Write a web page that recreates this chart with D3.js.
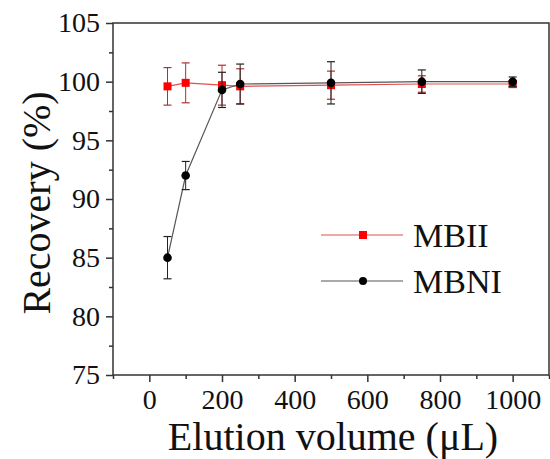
<!DOCTYPE html>
<html>
<head>
<meta charset="utf-8">
<script src="https://cdn.jsdelivr.net/npm/d3@7"></script>
<style>
  body { margin: 0; background: #fff; }
</style>
</head>
<body>
<div id="chart"></div>
<script>
// elution volumes (uL)
const volumes = [50, 100, 200, 250, 500, 750, 1000];
// recovery (%) and error
const mbiiRecovery = [99.6, 99.9, 99.7, 99.6, 99.7, 99.8, 99.8];
const mbiiError    = [1.6, 1.7, 1.7, 1.5, 1.2, 0.7, 0.3];
const mbniRecovery = [85.0, 92.0, 99.3, 99.8, 99.9, 100.0, 100.0];
const mbniError    = [1.8, 1.2, 1.5, 1.7, 1.8, 1.0, 0.4];

const xTicks = [0, 200, 400, 600, 800, 1000];
const yTicks = [75, 80, 85, 90, 95, 100, 105];

const seriesList = [
  { name: "MBII", values: mbiiRecovery, errors: mbiiError, color: "#ff0000", line: "#e05050", err: "#b03030", shape: "square" },
  { name: "MBNI", values: mbniRecovery, errors: mbniError, color: "#000000", line: "#555555", err: "#222222", shape: "circle" }
];

const fontName = "Times New Roman";

const layout = { top: 23, right: 1, bottom: 84, left: 113 },
      width = 550, height = 459,
      chartWidth = width - layout.left - layout.right,
      chartHeight = height - layout.top - layout.bottom;

const svg = d3.select("#chart").append("svg")
    .attr("width", width)
    .attr("height", height);

const g = svg.append("g").attr("transform", `translate(${layout.left},${layout.top})`);

const x = d3.scaleLinear().domain([-100, 1100]).range([0, chartWidth]);
const y = d3.scaleLinear().domain([75, 105]).range([chartHeight, 0]);

// frame
g.append("rect")
  .attr("width", chartWidth).attr("height", chartHeight)
  .attr("fill", "none").attr("stroke", "#333").attr("stroke-width", 1.5);

// axis helper: d3 axis, then strip its default font settings
function drawAxis(axisFn, translate) {
  const a = g.append("g").attr("transform", translate).call(axisFn);
  a.attr("font-family", null).attr("font-size", null);
  a.select(".domain").remove();
  a.selectAll("line").attr("stroke", "#333").attr("stroke-width", 1.5);
  a.selectAll("text")
    .attr("font-family", fontName).attr("font-size", 28).attr("fill", "#111");
  return a;
}

// minor ticks
drawAxis(d3.axisBottom(x).tickValues(d3.range(-100, 1101, 200)).tickSize(4).tickFormat(""), `translate(0,${chartHeight})`);
drawAxis(d3.axisLeft(y).tickValues(d3.range(77.5, 105, 5)).tickSize(4).tickFormat(""), "translate(0,0)");

// major ticks with labels
drawAxis(d3.axisBottom(x).tickValues(xTicks).tickFormat(d3.format("d")).tickSize(7).tickPadding(7), `translate(0,${chartHeight})`);
drawAxis(d3.axisLeft(y).tickValues(yTicks).tickSize(7).tickPadding(6), "translate(0,0)");

// axis titles
svg.append("text")
  .attr("x", 333).attr("y", 450)
  .attr("text-anchor", "middle")
  .attr("font-family", fontName).attr("font-size", 40).attr("fill", "#111")
  .text("Elution volume (μL)");

svg.append("text")
  .attr("transform", "translate(50,203) rotate(-90)")
  .attr("text-anchor", "middle")
  .attr("font-family", fontName).attr("font-size", 40).attr("fill", "#111")
  .text("Recovery (%)");

const lineGen = d3.line().x(d => x(d.v)).y(d => y(d.r));

seriesList.forEach(s => {
  const pts = volumes.map((v, i) => ({ v: v, r: s.values[i], e: s.errors[i] }));
  const sg = g.append("g");

  sg.append("path").datum(pts)
    .attr("d", lineGen)
    .attr("fill", "none").attr("stroke", s.line).attr("stroke-width", 1.2);

  const eb = sg.selectAll(".err").data(pts).enter().append("g");
  eb.append("line")
    .attr("x1", d => x(d.v)).attr("x2", d => x(d.v))
    .attr("y1", d => y(d.r + d.e)).attr("y2", d => y(d.r - d.e))
    .attr("stroke", s.err).attr("stroke-width", 1);
  [1, -1].forEach(sign => {
    eb.append("line")
      .attr("x1", d => x(d.v) - 4).attr("x2", d => x(d.v) + 4)
      .attr("y1", d => y(d.r + sign * d.e)).attr("y2", d => y(d.r + sign * d.e))
      .attr("stroke", s.err).attr("stroke-width", 1.2);
  });

  if (s.shape === "square") {
    sg.selectAll(".pt").data(pts).enter().append("rect")
      .attr("x", d => x(d.v) - 4).attr("y", d => y(d.r) - 4)
      .attr("width", 8).attr("height", 8)
      .attr("fill", s.color);
  } else {
    sg.selectAll(".pt").data(pts).enter().append("circle")
      .attr("cx", d => x(d.v)).attr("cy", d => y(d.r))
      .attr("r", 4.3)
      .attr("fill", s.color);
  }
});

// legend
const legend = svg.append("g");
seriesList.forEach((s, i) => {
  const ly = 235 + i * 46;
  legend.append("line")
    .attr("x1", 321).attr("x2", 403).attr("y1", ly).attr("y2", ly)
    .attr("stroke", s.line).attr("stroke-width", 1.2);
  if (s.shape === "square") {
    legend.append("rect").attr("x", 359).attr("y", ly - 4).attr("width", 8).attr("height", 8).attr("fill", s.color);
  } else {
    legend.append("circle").attr("cx", 363).attr("cy", ly).attr("r", 4).attr("fill", s.color);
  }
  legend.append("text")
    .attr("x", 413).attr("y", ly + 12)
    .attr("font-family", fontName).attr("font-size", 34).attr("fill", "#111")
    .text(s.name);
});
</script>
</body>
</html>
